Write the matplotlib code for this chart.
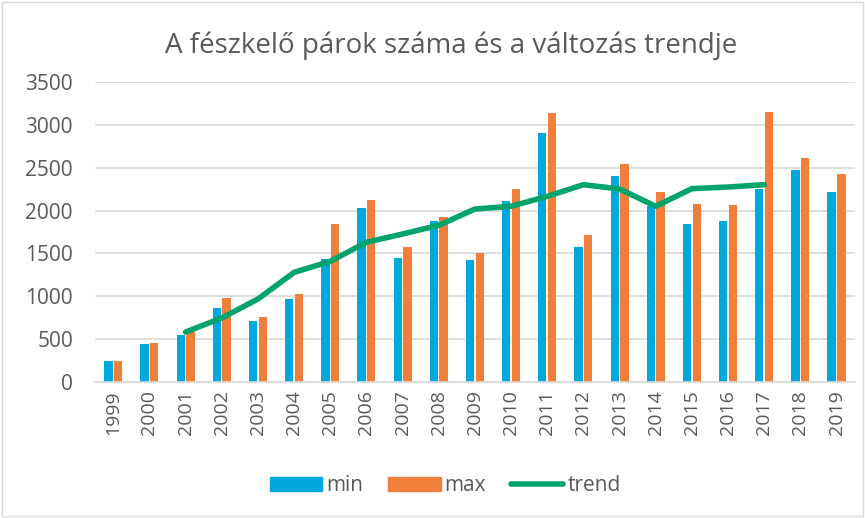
import numpy as np
import matplotlib
matplotlib.use('Agg')
import matplotlib.pyplot as plt
from matplotlib.lines import Line2D
from matplotlib.patches import Rectangle

plt.rcParams['font.family'] = ['Open Sans', 'DejaVu Sans']

# adatok
years = [str(y) for y in range(1999, 2020)]
min_vals = [241, 447, 548, 867, 708, 972, 1435, 2034, 1451, 1874, 1423,
            2108, 2909, 1571, 2403, 2050, 1847, 1882, 2252, 2469, 2221]
max_vals = [245, 455, 580, 984, 762, 1023, 1847, 2119, 1579, 1929, 1501,
            2256, 3138, 1711, 2539, 2217, 2081, 2069, 3150, 2613, 2427]
trend_years = years[2:19]
trend_vals = [583, 747, 968, 1279, 1408, 1630, 1727, 1828, 2018, 2050,
              2166, 2302, 2252, 2050, 2256, 2275, 2302]

blue = '#00a8de'
orange = '#f07f3c'
green = '#00a36c'
txt = '#595959'

fig = plt.figure(figsize=(8.65, 5.18), dpi=100)
ax = fig.add_axes([0.110, 0.2625, 0.878, 0.5792])

x = np.arange(len(years))
ax.bar(x - 0.135, min_vals, width=0.23, color=blue, label='min', zorder=2)
ax.bar(x + 0.135, max_vals, width=0.23, color=orange, label='max', zorder=2)
tx = [years.index(y) for y in trend_years]
ax.plot(tx, trend_vals, color=green, lw=4, solid_capstyle='round', label='trend', zorder=3)

ax.set_xlim(-0.5, len(years) - 0.5)
ax.set_ylim(0, 3500)
ax.set_yticks(range(0, 3501, 500))
ax.yaxis.grid(True, color='#d9d9d9', lw=1.2, zorder=0)
ax.set_axisbelow(True)
for s in ['top', 'right', 'left']:
    ax.spines[s].set_visible(False)
ax.spines['bottom'].set_color('#d9d9d9')
ax.spines['bottom'].set_linewidth(1.2)
ax.tick_params(axis='both', length=0, colors=txt, labelsize=15)
ax.tick_params(axis='y', pad=16)
ax.tick_params(axis='x', pad=6)
ax.set_xticks(x)
ax.set_xticklabels(years, rotation=90, fontsize=14)

fig.text(0.522, 0.912, 'A fészkelő párok száma és a változás trendje',
         ha='center', va='center', fontsize=20, color=txt)

handles = [Rectangle((0, 0), 1, 1, color=blue), Rectangle((0, 0), 1, 1, color=orange),
           Line2D([], [], color=green, lw=4, solid_capstyle='round')]
fig.legend(handles, ['min', 'max', 'trend'], loc='center', bbox_to_anchor=(0.515, 0.062),
           ncol=3, frameon=False, fontsize=15, labelcolor=txt, handlelength=2.5,
           handletextpad=0.2, columnspacing=1.2)

fig.add_artist(Rectangle((0.002, 0.003), 0.996, 0.994, transform=fig.transFigure,
                         fill=False, edgecolor='#d9d9d9', lw=1))

fig.savefig('out.png', dpi=100)
